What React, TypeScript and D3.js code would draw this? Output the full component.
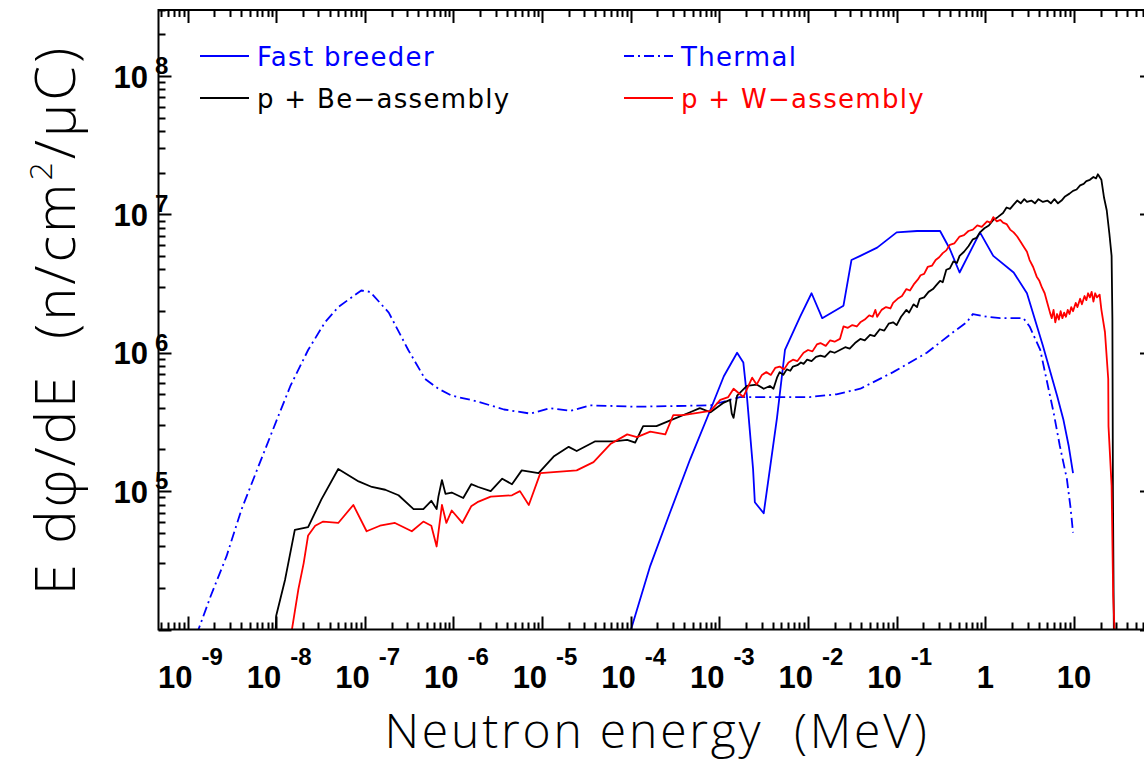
import React from "react";
import * as d3 from "d3";

const width = 1144;
const height = 762;
const plot = { left: 158.5, right: 1153, top: 10, bottom: 629.5 };

// series are stored as [log10(E / MeV), log10(E dphi/dE)]
const thermalLog: [number, number][] = [
  [-8.9, 3.96], [-8.74, 4.24], [-8.56, 4.53], [-8.39, 4.87], [-8.2, 5.18],
  [-7.99, 5.52], [-7.84, 5.76], [-7.64, 6.02], [-7.45, 6.22], [-7.3, 6.33],
  [-7.15, 6.4], [-7.04, 6.45], [-6.94, 6.44], [-6.73, 6.29], [-6.51, 6.02],
  [-6.32, 5.81], [-6.17, 5.74], [-6.02, 5.69], [-5.74, 5.65], [-5.43, 5.59],
  [-5.13, 5.56], [-4.91, 5.6], [-4.68, 5.58], [-4.46, 5.62], [-3.93, 5.61],
  [-3.1, 5.62], [-2.77, 5.68], [-1.98, 5.68], [-1.68, 5.7], [-1.41, 5.74],
  [-1.04, 5.86], [-0.66, 6.0], [-0.36, 6.15], [-0.21, 6.22], [-0.14, 6.28],
  [0.02, 6.26], [0.17, 6.25], [0.43, 6.25], [0.5, 6.19], [0.62, 6.02],
  [0.77, 5.57], [0.84, 5.33], [0.92, 5.09], [0.96, 4.89], [0.99, 4.7]
];

const fastBreederLog: [number, number][] = [
  [-4.03, 3.93], [-3.78, 4.46], [-3.56, 4.84], [-3.33, 5.23], [-3.1, 5.59],
  [-2.95, 5.83], [-2.8, 6.0], [-2.73, 5.93], [-2.69, 5.69], [-2.62, 5.16],
  [-2.6, 4.92], [-2.5, 4.84], [-2.43, 5.16], [-2.35, 5.53], [-2.26, 6.02],
  [-2.09, 6.26], [-1.96, 6.43], [-1.84, 6.25], [-1.6, 6.34], [-1.51, 6.67],
  [-1.41, 6.7], [-1.22, 6.76], [-1.0, 6.87], [-0.77, 6.88], [-0.51, 6.88],
  [-0.4, 6.75], [-0.29, 6.58], [-0.06, 6.87], [0.09, 6.7], [0.32, 6.58],
  [0.47, 6.43], [0.65, 6.05], [0.81, 5.69], [0.88, 5.52], [0.94, 5.33],
  [0.99, 5.13]
];

const beAssemblyLog: [number, number][] = [
  [-8.01, 3.93], [-8.0, 4.1], [-7.9, 4.36], [-7.79, 4.72], [-7.64, 4.74],
  [-7.49, 4.94], [-7.3, 5.16], [-7.07, 5.07], [-6.92, 5.03], [-6.77, 5.01],
  [-6.62, 4.97], [-6.45, 4.87], [-6.34, 4.87], [-6.25, 4.93], [-6.19, 4.87],
  [-6.17, 4.96], [-6.13, 5.08], [-6.09, 4.98], [-6.02, 4.99], [-5.89, 4.95],
  [-5.8, 5.05], [-5.72, 5.03], [-5.58, 5.0], [-5.45, 5.09], [-5.34, 5.05],
  [-5.23, 5.15], [-5.04, 5.13], [-4.87, 5.25], [-4.7, 5.32], [-4.61, 5.29],
  [-4.4, 5.36], [-4.19, 5.36], [-4.04, 5.37], [-3.95, 5.35], [-3.86, 5.47],
  [-3.71, 5.47], [-3.56, 5.51], [-3.33, 5.57], [-3.22, 5.6], [-3.1, 5.57],
  [-2.95, 5.64], [-2.88, 5.66], [-2.86, 5.56], [-2.84, 5.53], [-2.8, 5.69],
  [-2.69, 5.76], [-2.58, 5.77], [-2.5, 5.74], [-2.43, 5.76], [-2.39, 5.74],
  [-2.35, 5.82], [-2.32, 5.86], [-2.28, 5.84], [-2.24, 5.88], [-2.2, 5.87],
  [-2.17, 5.9], [-2.12, 5.91], [-2.08, 5.93], [-2.05, 5.92], [-2.01, 5.95],
  [-1.96, 5.94], [-1.91, 5.97], [-1.86, 5.98], [-1.81, 5.97], [-1.75, 6.01],
  [-1.7, 6.0], [-1.64, 6.02], [-1.58, 6.04], [-1.53, 6.03], [-1.47, 6.07],
  [-1.41, 6.1], [-1.36, 6.09], [-1.3, 6.13], [-1.25, 6.12], [-1.19, 6.17],
  [-1.14, 6.16], [-1.09, 6.21], [-1.04, 6.22], [-1.0, 6.2], [-0.95, 6.26],
  [-0.89, 6.31], [-0.86, 6.29], [-0.81, 6.35], [-0.77, 6.33], [-0.74, 6.39],
  [-0.69, 6.4], [-0.64, 6.44], [-0.59, 6.46], [-0.55, 6.49], [-0.51, 6.52],
  [-0.48, 6.51], [-0.44, 6.6], [-0.4, 6.61], [-0.36, 6.66], [-0.32, 6.65],
  [-0.29, 6.7], [-0.24, 6.73], [-0.19, 6.77], [-0.14, 6.82], [-0.1, 6.83],
  [-0.06, 6.87], [-0.01, 6.9], [0.04, 6.92], [0.09, 6.96], [0.14, 6.98],
  [0.2, 7.01], [0.24, 7.05], [0.28, 7.04], [0.32, 7.07], [0.36, 7.1],
  [0.4, 7.08], [0.44, 7.11], [0.47, 7.09], [0.52, 7.1], [0.56, 7.08],
  [0.6, 7.11], [0.65, 7.09], [0.7, 7.1], [0.74, 7.08], [0.78, 7.11],
  [0.82, 7.08], [0.86, 7.1], [0.9, 7.13], [0.95, 7.15], [0.99, 7.17],
  [1.03, 7.18], [1.07, 7.21], [1.11, 7.22], [1.14, 7.24], [1.18, 7.25],
  [1.22, 7.27], [1.25, 7.26], [1.27, 7.29], [1.31, 7.25], [1.34, 7.12],
  [1.37, 7.03], [1.4, 6.86], [1.425, 6.7], [1.434, 6.24], [1.44, 5.0],
  [1.451, 3.93]
];

const wAssemblyLog: [number, number][] = [
  [-7.84, 3.93], [-7.75, 4.29], [-7.69, 4.48], [-7.64, 4.68], [-7.56, 4.75],
  [-7.47, 4.78], [-7.3, 4.77], [-7.13, 4.9], [-6.98, 4.71], [-6.83, 4.75],
  [-6.66, 4.77], [-6.47, 4.71], [-6.34, 4.78], [-6.25, 4.75], [-6.19, 4.6],
  [-6.13, 4.9], [-6.08, 4.77], [-6.02, 4.86], [-5.9, 4.77], [-5.8, 4.89],
  [-5.73, 4.92], [-5.58, 4.96], [-5.34, 4.97], [-5.25, 5.0], [-5.15, 4.9],
  [-5.02, 5.13], [-4.61, 5.15], [-4.42, 5.21], [-4.23, 5.34], [-4.04, 5.41],
  [-3.93, 5.39], [-3.78, 5.43], [-3.61, 5.41], [-3.52, 5.55], [-3.41, 5.55],
  [-3.1, 5.58], [-2.99, 5.66], [-2.9, 5.68], [-2.84, 5.74], [-2.73, 5.68],
  [-2.63, 5.82], [-2.58, 5.77], [-2.52, 5.84], [-2.47, 5.86], [-2.42, 5.84],
  [-2.37, 5.89], [-2.32, 5.9], [-2.27, 5.88], [-2.22, 5.93], [-2.17, 5.95],
  [-2.12, 5.94], [-2.05, 6.0], [-2.0, 6.02], [-1.95, 6.01], [-1.9, 6.06],
  [-1.86, 6.07], [-1.8, 6.05], [-1.75, 6.09], [-1.7, 6.08], [-1.64, 6.1],
  [-1.6, 6.19], [-1.55, 6.18], [-1.5, 6.2], [-1.45, 6.19], [-1.41, 6.22],
  [-1.36, 6.24], [-1.31, 6.27], [-1.27, 6.26], [-1.24, 6.31], [-1.22, 6.26],
  [-1.17, 6.31], [-1.12, 6.33], [-1.07, 6.32], [-1.04, 6.36], [-0.99, 6.39],
  [-0.94, 6.41], [-0.89, 6.46], [-0.85, 6.45], [-0.8, 6.5], [-0.76, 6.53],
  [-0.73, 6.56], [-0.69, 6.57], [-0.65, 6.62], [-0.6, 6.63], [-0.56, 6.67],
  [-0.52, 6.69], [-0.48, 6.72], [-0.44, 6.74], [-0.4, 6.78], [-0.35, 6.79],
  [-0.29, 6.84], [-0.24, 6.85], [-0.19, 6.88], [-0.14, 6.89], [-0.09, 6.92],
  [-0.04, 6.91], [0.02, 6.95], [0.06, 6.94], [0.09, 6.98], [0.13, 6.95],
  [0.17, 6.96], [0.2, 6.94], [0.24, 6.93], [0.28, 6.89], [0.32, 6.87],
  [0.36, 6.84], [0.4, 6.8], [0.43, 6.77], [0.47, 6.73], [0.5, 6.67],
  [0.54, 6.62], [0.58, 6.55], [0.61, 6.52], [0.64, 6.47], [0.67, 6.43],
  [0.7, 6.36], [0.73, 6.29], [0.75, 6.25], [0.77, 6.31], [0.79, 6.22],
  [0.81, 6.28], [0.83, 6.24], [0.85, 6.3], [0.87, 6.25], [0.89, 6.29],
  [0.91, 6.26], [0.93, 6.31], [0.95, 6.28], [0.97, 6.33], [0.99, 6.3],
  [1.02, 6.36], [1.04, 6.33], [1.07, 6.39], [1.09, 6.35], [1.12, 6.41],
  [1.14, 6.38], [1.16, 6.43], [1.18, 6.4], [1.2, 6.44], [1.22, 6.37],
  [1.24, 6.43], [1.26, 6.4], [1.29, 6.42], [1.31, 6.31], [1.35, 6.15],
  [1.387, 5.81], [1.39, 5.47], [1.425, 5.04], [1.443, 4.24], [1.462, 3.93]
];

const xDecades = [-9, -8, -7, -6, -5, -4, -3, -2, -1, 0, 1];
const yDecades = [5, 6, 7, 8];

const series = [
  { name: "Fast breeder", color: "#0000ff", dash: null, data: fastBreederLog, col: 0, row: 0 },
  { name: "Thermal", color: "#0000ff", dash: "10 4 2 4", data: thermalLog, col: 1, row: 0 },
  { name: "p + Be\u2212assembly", color: "#000000", dash: null, data: beAssemblyLog, col: 0, row: 1 },
  { name: "p + W\u2212assembly", color: "#ff0000", dash: null, data: wAssemblyLog, col: 1, row: 1 }
];

const legendCols = [{ x0: 200, x1: 249, tx: 257 }, { x0: 624, x1: 673, tx: 681 }];
const legendRows = [56, 98];

const xScale = d3.scaleLog().domain([4.7e-10, 78]).range([plot.left, plot.right]);
const yScale = d3.scaleLog().domain([1e4, 3e8]).range([plot.bottom, plot.top]);

function logTicks(scale: d3.ScaleLogarithmic<number, number>) {
  const [lo, hi] = scale.domain();
  const out: { v: number; major: boolean }[] = [];
  for (let d = Math.floor(Math.log10(lo)); d <= Math.ceil(Math.log10(hi)); d++) {
    for (let k = 1; k <= 9; k++) {
      const v = k * Math.pow(10, d);
      if (v >= lo && v <= hi) out.push({ v, major: k === 1 });
    }
  }
  return out;
}

const line = d3
  .line<[number, number]>()
  .x((d) => xScale(Math.pow(10, d[0])))
  .y((d) => yScale(Math.pow(10, d[1])));

const labelFont = "'Liberation Sans', Arial, sans-serif";
const legendFont = "'DejaVu Sans', sans-serif";
const titleFont = "'Open Sans', 'Liberation Sans', sans-serif";

export default function App() {
  const xTicks = logTicks(xScale);
  const yTicks = logTicks(yScale);
  const major = 13;
  const minor = 7;

  return (
    <svg width={width} height={height} style={{ display: "block", position: "absolute", left: 0, top: 0 }}>
      <rect width={width} height={height} fill="#fff" />
      <defs>
        <clipPath id="plotClip">
          <rect x={plot.left} y={plot.top} width={plot.right - plot.left} height={plot.bottom - plot.top} />
        </clipPath>
      </defs>

      <g clipPath="url(#plotClip)">
        {series.map((s) => (
          <path
            key={s.name}
            d={line(s.data) || ""}
            fill="none"
            stroke={s.color}
            strokeWidth={1.8}
            strokeDasharray={s.dash || undefined}
            strokeLinejoin="round"
          />
        ))}
      </g>

      {/* frame and ticks */}
      <g stroke="#000" strokeWidth={2}>
        <rect x={plot.left} y={plot.top} width={plot.right - plot.left} height={plot.bottom - plot.top} fill="none" />
        {xTicks.map((t, i) => {
          const x = Math.round(xScale(t.v)) + 0.5;
          const len = t.major ? major : minor;
          return (
            <g key={`x${i}`}>
              <line x1={x} x2={x} y1={plot.bottom} y2={plot.bottom - len} />
              <line x1={x} x2={x} y1={plot.top} y2={plot.top + len} />
            </g>
          );
        })}
        {yTicks.map((t, i) => {
          const y = Math.round(yScale(t.v)) + 0.5;
          const len = t.major ? major : minor;
          return (
            <g key={`y${i}`}>
              <line x1={plot.left} x2={plot.left + len} y1={y} y2={y} />
              <line x1={plot.right} x2={plot.right - len} y1={y} y2={y} />
            </g>
          );
        })}
      </g>

      {/* x tick labels */}
      <g fontFamily={labelFont} fontWeight="bold" fill="#000">
        {xDecades.map((d) => {
          const x = xScale(Math.pow(10, d));
          if (d >= 0) {
            return (
              <text key={d} x={x} y={688} fontSize={31} textAnchor="middle">
                {d === 0 ? "1" : "10"}
              </text>
            );
          }
          return (
            <g key={d}>
              <text x={x + 5} y={688} fontSize={31} textAnchor="end">10</text>
              <text x={x + 14} y={665} fontSize={24}>{`-${-d}`}</text>
            </g>
          );
        })}
        {yDecades.map((d) => {
          const y = yScale(Math.pow(10, d));
          return (
            <g key={d}>
              <text x={148} y={y + 11.5} fontSize={31} textAnchor="end">10</text>
              <text x={155} y={y - 2} fontSize={24}>{d}</text>
            </g>
          );
        })}
      </g>

      {/* axis titles */}
      <text
        x={657}
        y={748}
        fontFamily={titleFont}
        fontWeight={300}
        fontSize={48}
        letterSpacing={2.8}
        textAnchor="middle"
        style={{ whiteSpace: "pre" }}
      >
        {"Neutron energy  (MeV)"}
      </text>
      <text
        transform="translate(75 320) rotate(-90)"
        fontFamily={titleFont}
        fontWeight={300}
        fontSize={56}
        letterSpacing={3}
        textAnchor="middle"
        style={{ whiteSpace: "pre" }}
      >
        {"E d\u03c6/dE  (n/cm"}
        <tspan fontSize={32} dy={-23}>2</tspan>
        <tspan dy={23}>{"/\u03bcC)"}</tspan>
      </text>

      {/* legend */}
      <g fontFamily={legendFont} fontSize={26} letterSpacing={1.3}>
        {series.map((s) => {
          const c = legendCols[s.col];
          const y = legendRows[s.row];
          return (
            <g key={s.name}>
              <line x1={c.x0} x2={c.x1} y1={y} y2={y} stroke={s.color} strokeWidth={2} strokeDasharray={s.dash || undefined} />
              <text x={c.tx} y={y + 10} fill={s.color}>{s.name}</text>
            </g>
          );
        })}
      </g>
    </svg>
  );
}
